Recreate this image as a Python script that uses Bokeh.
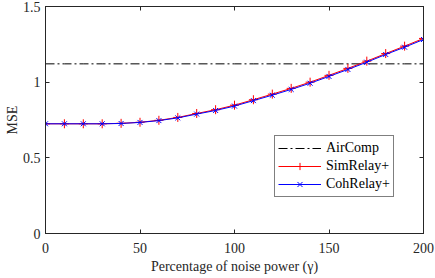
from bokeh.plotting import figure
from bokeh.models import FixedTicker, LinearAxis, Legend, LegendItem, Range1d
from bokeh.embed import file_html
from bokeh.resources import INLINE

# ---- data ----
noise_pct = [0, 10, 20, 30, 40, 50, 60, 70, 80, 90, 100, 110, 120, 130, 140, 150, 160, 170, 180, 190, 200]
simrelay = [0.725, 0.725, 0.725, 0.725, 0.728, 0.735, 0.748, 0.767, 0.793, 0.818, 0.848,
            0.884, 0.921, 0.959, 1.000, 1.045, 1.091, 1.139, 1.189, 1.238, 1.289]
cohrelay = [0.725, 0.725, 0.725, 0.725, 0.727, 0.734, 0.746, 0.764, 0.789, 0.813, 0.842,
            0.878, 0.914, 0.952, 0.993, 1.038, 1.084, 1.132, 1.183, 1.231, 1.282]
aircomp = [1.121] * len(noise_pct)

x_ticks = [0, 50, 100, 150, 200]
y_ticks = [0, 0.5, 1, 1.5]
y_tick_labels = ["0", "0.5", "1", "1.5"]

FONT = "Liberation Serif"
AX = "#262626"

p = figure(width=435, height=278, output_backend="svg", toolbar_location=None,
           x_range=Range1d(0, 200), y_range=Range1d(0, 1.5),
           min_border_left=45, min_border_right=12, min_border_top=6, min_border_bottom=45)
p.xgrid.visible = False
p.ygrid.visible = False
p.outline_line_color = AX
p.background_fill_color = "white"
p.border_fill_color = "white"

def style_axis(ax, labels=True):
    ax.axis_line_color = AX
    ax.major_tick_line_color = AX
    ax.major_tick_in = 4
    ax.major_tick_out = 0
    ax.minor_tick_line_color = None
    ax.major_label_text_font = FONT
    ax.major_label_text_color = AX if labels else None
    ax.major_label_text_font_size = "14px" if labels else "0px"
    ax.axis_label_text_font = FONT
    ax.axis_label_text_font_size = "14px"
    ax.axis_label_text_font_style = "normal"
    ax.axis_label_text_color = AX

xa = p.xaxis[0]
ya = p.yaxis[0]
xa.ticker = FixedTicker(ticks=x_ticks)
ya.ticker = FixedTicker(ticks=y_ticks)
ya.major_label_overrides = {t: l for t, l in zip(y_ticks, y_tick_labels)}
style_axis(xa)
style_axis(ya)
xa.axis_label = "Percentage of noise power (γ)"
ya.axis_label = "MSE"
xa.major_label_standoff = 9
xa.axis_label_standoff = 3
ya.major_label_standoff = 5
ya.axis_label_standoff = 0

top = LinearAxis(ticker=FixedTicker(ticks=x_ticks))
right = LinearAxis(ticker=FixedTicker(ticks=y_ticks))
for a in (top, right):
    style_axis(a, labels=False)
    a.major_label_standoff = 0
p.add_layout(top, "above")
p.add_layout(right, "right")

r_air = p.line(noise_pct, aircomp, line_color="black", line_width=1, line_dash="9 3 2 3")
r_sim_l = p.line(noise_pct, simrelay, line_color="#FF0000", line_width=1)
r_sim_m = p.scatter(noise_pct, simrelay, marker="cross", size=9, line_color="#FF0000", line_width=1)
r_coh_l = p.line(noise_pct, cohrelay, line_color="#0000FF", line_width=1)
r_coh_m = p.scatter(noise_pct, cohrelay, marker="x", size=7, line_color="#0000FF", line_width=1)

legend = Legend(items=[
    LegendItem(label="AirComp", renderers=[r_air]),
    LegendItem(label="SimRelay+", renderers=[r_sim_l, r_sim_m]),
    LegendItem(label="CohRelay+", renderers=[r_coh_l, r_coh_m]),
], location=(229, 36))
legend.label_text_font = FONT
legend.label_text_font_size = "14px"
legend.label_text_color = "black"
legend.glyph_width = 43
legend.glyph_height = 18
legend.label_height = 18
legend.label_standoff = 5
legend.spacing = 0
legend.padding = 3
legend.margin = 0
legend.border_line_color = "black"
legend.border_line_width = 1
legend.background_fill_color = "white"
legend.background_fill_alpha = 1
p.add_layout(legend, "center")

open("out.html", "w").write(file_html(p, INLINE))
